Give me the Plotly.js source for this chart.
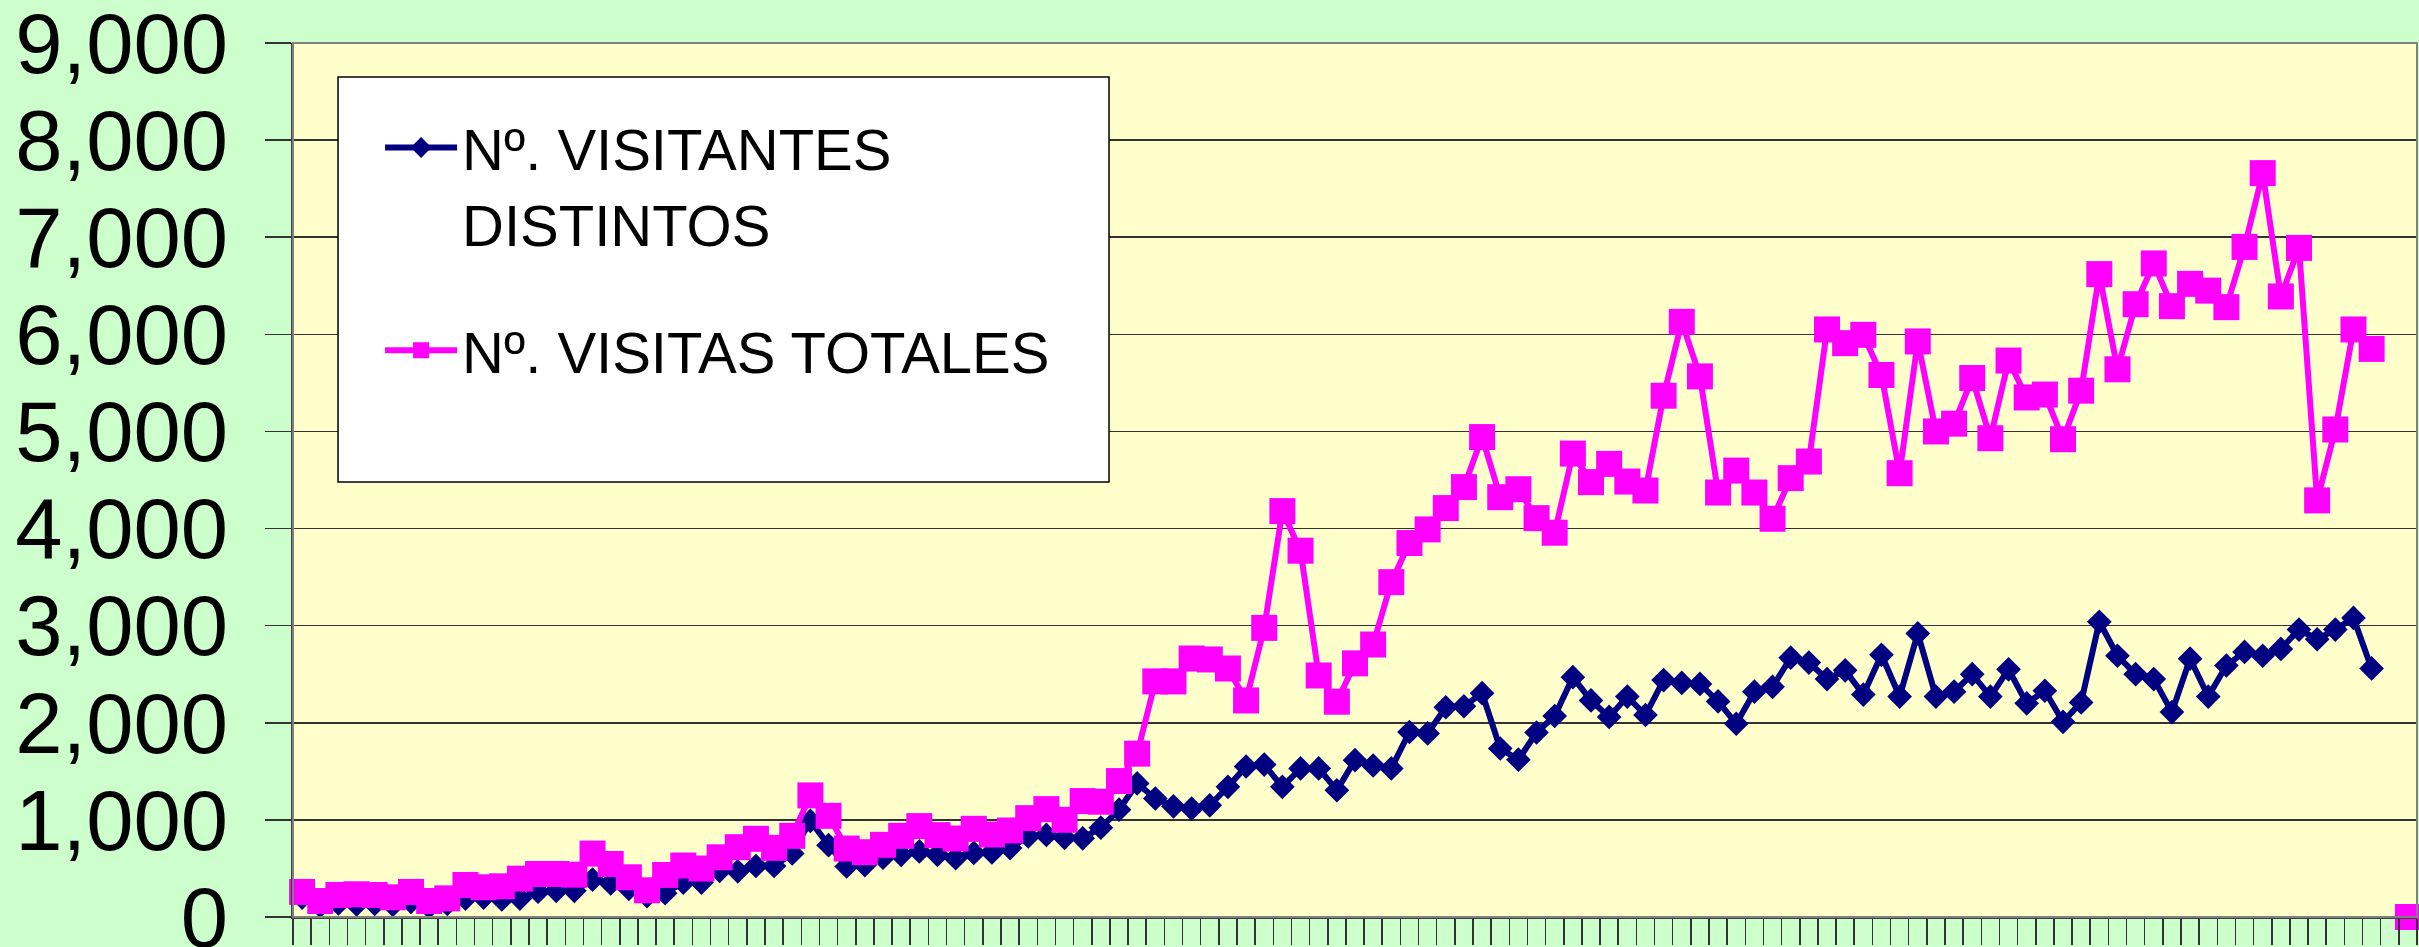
<!DOCTYPE html>
<html>
<head>
<meta charset="utf-8">
<script src="https://cdn.plot.ly/plotly-3.0.1.min.js"></script>
<style>html,body{margin:0;padding:0;background:#CCFFCC;}#chart{width:2419px;height:947px;}</style>
</head>
<body>
<div id="chart"></div>
<script>
const seriesNames = ["Nº. VISITANTES<br>DISTINTOS", "Nº. VISITAS TOTALES"];

const visitantesDistintos = [
  200, 115, 140, 130, 135, 125, 155, 105, 135, 190,
  200, 180, 190, 260, 270, 270, 385, 345, 290, 215,
  245, 355, 355, 475, 470, 525, 525, 655, 990, 740,
  520, 535, 610, 640, 675, 640, 605, 660, 665, 710,
  830, 845, 815, 810, 920, 1105, 1375, 1220, 1140, 1115,
  1150, 1340, 1550, 1570, 1340, 1530, 1530, 1305, 1615, 1560,
  1530, 1905, 1890, 2160, 2170, 2305, 1735, 1620, 1900, 2070,
  2470, 2230, 2060, 2270, 2080, 2440, 2410, 2400, 2220, 1990,
  2320, 2370, 2670, 2620, 2450, 2540, 2290, 2700, 2270, 2920,
  2270, 2320, 2500, 2270, 2550, 2200, 2330, 2010, 2210, 3040,
  2690, 2500, 2450, 2110, 2660, 2270, 2590, 2730, 2690, 2760,
  2960, 2860, 2960, 3080, 2560, null, 0
];

const visitasTotales = [
  258, 165, 227, 234, 227, 203, 258, 165, 192, 330,
  306, 316, 395, 443, 443, 436, 653, 546, 409, 275,
  433, 530, 499, 615, 719, 805, 712, 836, 1252, 1042,
  705, 667, 743, 836, 936, 843, 808, 908, 850, 891,
  1018, 1111, 1001, 1194, 1187, 1400, 1682, 2426, 2426, 2662,
  2652, 2559, 2230, 2977, 4180, 3772, 2487, 2217, 2612, 2806,
  3448, 3851, 3991, 4211, 4427, 4942, 4323, 4405, 4107, 3957,
  4772, 4478, 4666, 4484, 4392, 5368, 6129, 5567, 4371, 4597,
  4371, 4101, 4519, 4690, 6050, 5909, 5995, 5581, 4570, 5927,
  5000, 5080, 5550, 4930, 5730, 5350, 5380, 4920, 5420, 6620,
  5640, 6310, 6730, 6290, 6520, 6450, 6280, 6900, 7660, 6390,
  6890, 4290, 5020, 6050, 5850, null, 0
];

const yTickValues = [0, 1000, 2000, 3000, 4000, 5000, 6000, 7000, 8000, 9000];

const nCat = visitasTotales.length;
const categoryIndex = visitasTotales.map((_, i) => i);
const boundaryTicks = [];
for (let k = 0; k <= nCat; k++) boundaryTicks.push(k - 0.5);

const FONT = "Liberation Sans, Arial, sans-serif";

const traces = [
  {
    type: "scatter", mode: "lines+markers", name: seriesNames[0],
    x: categoryIndex, y: visitantesDistintos,
    line: {color: "#000080", width: 6},
    marker: {symbol: "diamond", size: 19, color: "#000080"},
    cliponaxis: false, legendgroup: "a"
  },
  {
    type: "scatter", mode: "lines+markers", name: seriesNames[1],
    x: categoryIndex, y: visitasTotales,
    line: {color: "#FF00FF", width: 6},
    marker: {symbol: "square", size: 26, color: "#FF00FF"},
    cliponaxis: false, legendgroup: "b"
  }
];

const layout = {
  width: 2419, height: 947,
  paper_bgcolor: "#CCFFCC", plot_bgcolor: "#FFFFCC",
  margin: {l: 293, r: 2, t: 43, b: 30, pad: 0},
  font: {family: FONT, color: "#000000"},
  showlegend: true,
  xaxis: {
    range: [-0.5, nCat - 0.5], showgrid: false, zeroline: false,
    tickmode: "array", tickvals: boundaryTicks, showticklabels: false,
    ticks: "outside", ticklen: 26, tickwidth: 1.5, tickcolor: "#333333",
    showline: true, linecolor: "#404040", linewidth: 2
  },
  yaxis: {
    range: [0, 9000], tickmode: "array", tickvals: yTickValues,
    tickformat: ",d", tickfont: {family: FONT, size: 85, color: "#000000"},
    ticks: "outside", ticklen: 26, tickwidth: 1.5, tickcolor: "#333333",
    ticklabelstandoff: 20, ticklabeloverflow: "allow",
    showgrid: true, gridcolor: "#333333", gridwidth: 1.5, zeroline: false,
    showline: true, linecolor: "#404040", linewidth: 2
  },
  legend: {
    x: 0.041, y: 0.931, xanchor: "left", yanchor: "top",
    bgcolor: "rgba(0,0,0,0)", borderwidth: 0,
    font: {family: FONT, size: 58, color: "#000000"},
    valign: "top", itemwidth: 72, traceorder: "grouped", tracegroupgap: 49,
    itemclick: false
  },
  shapes: [
    {type: "rect", xref: "paper", yref: "paper", x0: 0, x1: 1, y0: 0, y1: 1,
     line: {color: "#808080", width: 2}, fillcolor: "rgba(0,0,0,0)", layer: "above"},
    {type: "rect", xref: "paper", yref: "paper", x0: 0.0212, x1: 0.3842, y0: 0.4977, y1: 0.9611,
     line: {color: "#000000", width: 1.5}, fillcolor: "#FFFFFF", layer: "above"}
  ]
};

Plotly.newPlot("chart", traces, layout, {displayModeBar: false, staticPlot: true});
</script>
</body>
</html>
